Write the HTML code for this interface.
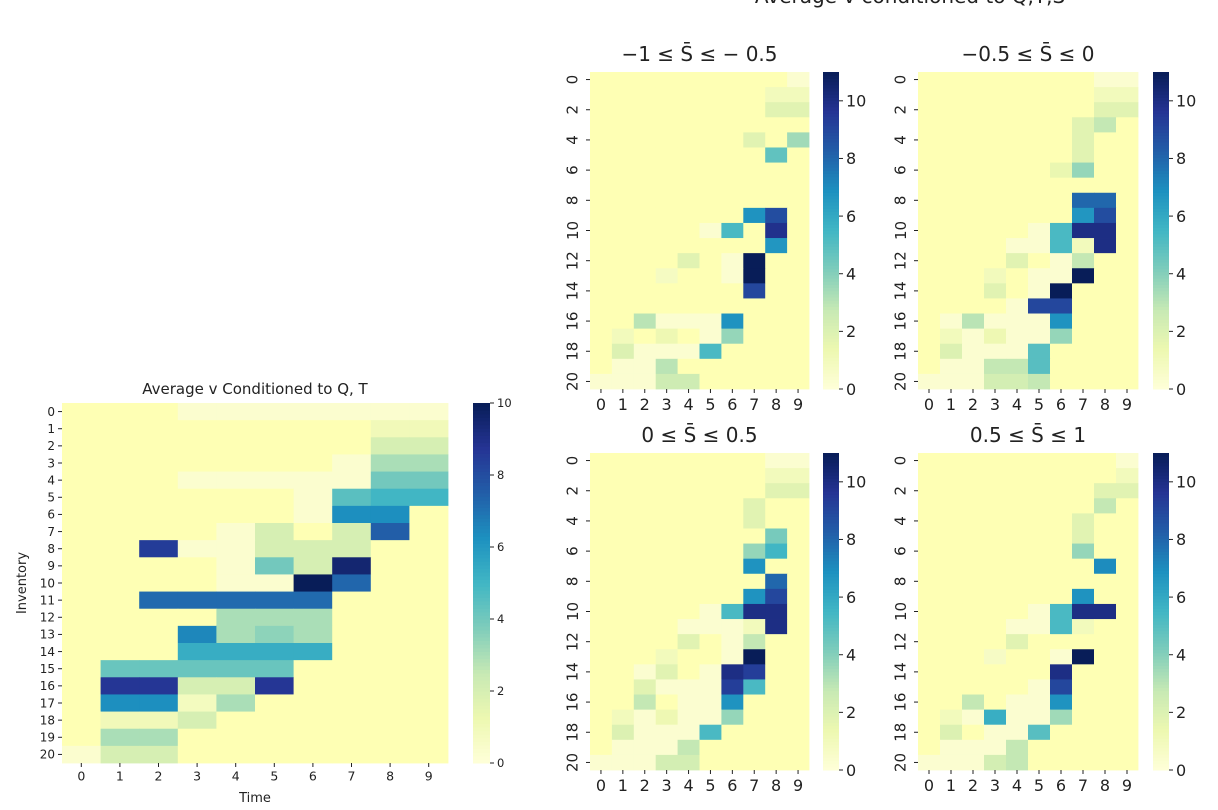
<!DOCTYPE html>
<html><head><meta charset="utf-8">
<style>
html,body{margin:0;padding:0;background:#fff;}
svg{display:block;font-family:"DejaVu Sans","Liberation Sans",sans-serif;}
</style></head>
<body>
<svg id="fig" width="1218" height="810" viewBox="0 0 1218 810" xmlns="http://www.w3.org/2000/svg">
<text x="910" y="3" font-size="20" text-anchor="middle" fill="#222">Average v conditioned to Q,T,S̄</text>
</svg>
<script>
const _ = null;
const timeLabels = ['0','1','2','3','4','5','6','7','8','9'];
const cbTicksMain = [0,2,4,6,8,10];
const cbTicksSmall = [0,2,4,6,8,10];
const mainData = [
[_,_,_,.3,.3,.3,.3,.3,.3,.3],
[_,_,_,_,_,_,_,_,1,1],
[_,_,_,_,_,_,_,_,2,2],
[_,_,_,_,_,_,_,.3,3,3],
[_,_,_,.3,.3,.3,.3,.3,4,4],
[_,_,_,_,_,_,.3,4.5,5,5],
[_,_,_,_,_,_,.3,6.3,6.3,_],
[_,_,_,_,.3,2,_,2,7.5,_],
[_,_,8.5,.3,.3,2,2,2,_,_],
[_,_,_,_,.3,4,2,9.5,_,_],
[_,_,_,_,.3,.3,10,7.3,_,_],
[_,_,7.2,7.2,7.2,7.2,7.2,_,_,_],
[_,_,_,_,3,3,3,_,_,_],
[_,_,_,6.5,3,3.5,3,_,_,_],
[_,_,_,5.3,5.3,5.3,5.3,_,_,_],
[_,4.2,4.2,4.2,4.2,4.2,_,_,_,_],
[_,8.7,8.7,2,2,8.7,_,_,_,_],
[_,6.3,6.3,.8,3,_,_,_,_,_],
[_,1,1,2,_,_,_,_,_,_],
[_,3,3,_,_,_,_,_,_,_],
[.3,2,2,_,_,_,_,_,_,_]];
const dataA = [
[_,_,_,_,_,_,_,_,_,.3],
[_,_,_,_,_,_,_,_,1,1],
[_,_,_,_,_,_,_,_,1.8,1.8],
[_,_,_,_,_,_,_,_,_,_],
[_,_,_,_,_,_,_,1.8,_,3.5],
[_,_,_,_,_,_,_,_,4.8,_],
[_,_,_,_,_,_,_,_,_,_],
[_,_,_,_,_,_,_,_,_,_],
[_,_,_,_,_,_,_,_,_,_],
[_,_,_,_,_,_,_,6.8,8.8,_],
[_,_,_,_,_,.3,5.3,_,9.8,_],
[_,_,_,_,_,_,_,_,6.7,_],
[_,_,_,_,1.8,_,.3,11,_,_],
[_,_,_,.8,_,_,.3,11,_,_],
[_,_,_,_,_,_,_,9,_,_],
[_,_,_,_,_,_,_,_,_,_],
[_,_,3,.3,.3,.3,6.8,_,_,_],
[_,1,_,1.3,_,.3,3.7,_,_,_],
[_,2,.3,.3,.3,5.3,_,_,_,_],
[_,.3,.3,3,_,_,_,_,_,_],
[.3,.3,.3,2.5,2.5,_,_,_,_,_]];
const dataB = [
[_,_,_,_,_,_,_,_,.3,.3],
[_,_,_,_,_,_,_,_,1,1],
[_,_,_,_,_,_,_,_,1.8,1.8],
[_,_,_,_,_,_,_,1.8,2.8,_],
[_,_,_,_,_,_,_,1.8,_,_],
[_,_,_,_,_,_,_,1.8,_,_],
[_,_,_,_,_,_,1.5,3.7,_,_],
[_,_,_,_,_,_,_,_,_,_],
[_,_,_,_,_,_,_,8,8,_],
[_,_,_,_,_,_,_,6.7,8.8,_],
[_,_,_,_,_,.3,5.3,10,10,_],
[_,_,_,_,.3,.3,5.3,1,10,_],
[_,_,_,_,1.8,_,.3,2.8,_,_],
[_,_,_,1,_,.3,.3,11,_,_],
[_,_,_,1.8,_,.3,11,_,_,_],
[_,_,_,_,.3,9,9,_,_,_],
[_,.3,3,.3,.3,.3,6.8,_,_,_],
[_,1,.3,1.3,.3,.3,3.7,_,_,_],
[_,2,.3,.3,.3,5,_,_,_,_],
[_,.3,.3,2.8,2.8,5,_,_,_,_],
[.3,.3,.3,2.3,2.3,2.8,_,_,_,_]];
const dataC = [
[_,_,_,_,_,_,_,_,.3,.3],
[_,_,_,_,_,_,_,_,1,1],
[_,_,_,_,_,_,_,_,1.8,1.8],
[_,_,_,_,_,_,_,1.8,_,_],
[_,_,_,_,_,_,_,1.8,_,_],
[_,_,_,_,_,_,_,_,4.3,_],
[_,_,_,_,_,_,_,3.7,5.5,_],
[_,_,_,_,_,_,_,6.8,_,_],
[_,_,_,_,_,_,_,_,8,_],
[_,_,_,_,_,_,_,6.8,9,_],
[_,_,_,_,_,.3,5.3,10,10,_],
[_,_,_,_,.3,.3,.3,1,10,_],
[_,_,_,_,1.8,_,.3,2.8,_,_],
[_,_,_,1,_,_,.3,11,_,_],
[_,_,.3,1.8,_,.3,10,9.3,_,_],
[_,_,1.8,.3,.3,.3,9.3,5.3,_,_],
[_,_,2.8,_,.3,.3,6.8,_,_,_],
[_,1,.3,1.3,.3,.3,3.7,_,_,_],
[_,2,.3,.3,.3,5.3,_,_,_,_],
[_,.3,.3,.3,2.8,_,_,_,_,_],
[.3,.3,.3,2.3,2.3,_,_,_,_,_]];
const dataD = [
[_,_,_,_,_,_,_,_,_,.3],
[_,_,_,_,_,_,_,_,_,1],
[_,_,_,_,_,_,_,_,1.8,1.8],
[_,_,_,_,_,_,_,_,2.8,_],
[_,_,_,_,_,_,_,1.8,_,_],
[_,_,_,_,_,_,_,1.8,_,_],
[_,_,_,_,_,_,_,3.7,_,_],
[_,_,_,_,_,_,_,_,7,_],
[_,_,_,_,_,_,_,_,_,_],
[_,_,_,_,_,_,_,6.8,_,_],
[_,_,_,_,_,.3,5.3,10,10,_],
[_,_,_,_,.3,.3,5.3,1,_,_],
[_,_,_,_,1.8,_,_,_,_,_],
[_,_,_,.7,_,_,.3,11,_,_],
[_,_,_,_,_,_,10,_,_,_],
[_,_,_,_,_,.3,9,_,_,_],
[_,_,2.8,_,.3,.3,6.8,_,_,_],
[_,1,.3,5.8,.3,.3,3.5,_,_,_],
[_,2,_,.3,.3,5,_,_,_,_],
[_,.3,.3,.3,2.8,_,_,_,_,_],
[.3,.3,.3,2.3,2.8,_,_,_,_,_]];

const NS='http://www.w3.org/2000/svg';
const svg=document.getElementById('fig');
const stops=['#ffffd9','#edf8b1','#c7e9b4','#7fcdbb','#41b6c4','#1d91c0','#225ea8','#253494','#081d58'];
const NANC='#feffb4';
function hx(c){return [1,3,5].map(i=>parseInt(c.substr(i,2),16));}
function cmap(t){t=Math.max(0,Math.min(1,t));const p=t*(stops.length-1);const i=Math.min(stops.length-2,Math.floor(p));const f=p-i;const a=hx(stops[i]),b=hx(stops[i+1]);return 'rgb('+a.map((v,k)=>Math.round(v+(b[k]-v)*f)).join(',')+')';}
function el(tag,attrs,parent){const e=document.createElementNS(NS,tag);for(const k in attrs)e.setAttribute(k,attrs[k]);(parent||svg).appendChild(e);return e;}
function txt(s,attrs,parent){const e=el('text',attrs,parent);e.textContent=s;return e;}

function heatmap(cfg){
  const g=el('g',{});
  
  
  const nr=cfg.data.length,nc=timeLabels.length;
  const cw=(cfg.x1-cfg.x0)/nc,rh=(cfg.y1-cfg.y0)/nr;
  const xs=c=>cfg.x0+c*cw, ys=r=>cfg.y0+r*rh;
  for(let r=0;r<nr;r++)for(let c=0;c<nc;c++){
    const v=cfg.data[r][c];
    const rc=el('rect',{x:xs(c).toFixed(2),y:ys(r).toFixed(2),width:(cw+0.4).toFixed(2),height:(rh+0.4).toFixed(2),fill:v===null?NANC:cmap(v/cfg.vmax)},g);
    
    
  }
  for(let c=0;c<nc;c++){
    const x=xs(c+0.5);
    el('line',{x1:x,x2:x,y1:cfg.y1,y2:cfg.y1+cfg.tick,stroke:'#222','stroke-width':1},g);
    const t=txt(timeLabels[c],{x:x,y:cfg.y1+cfg.tick+cfg.xfs+1,'font-size':cfg.xfs,'text-anchor':'middle',fill:'#222'},g);
    
    
  }
  for(let r=0;r<nr;r+=cfg.ystep){
    const y=ys(r+0.5);
    el('line',{x1:cfg.x0-cfg.tick,x2:cfg.x0,y1:y,y2:y,stroke:'#222','stroke-width':1},g);
    let t;
    if(cfg.rot){
      const lx=cfg.x0-cfg.tick-3-cfg.fs*0.35;
      t=txt(String(r),{x:lx,y:y,'font-size':cfg.fs,'text-anchor':'middle',fill:'#222',transform:'rotate(-90 '+lx+' '+y+')'},g);
    }else{
      t=txt(String(r),{x:cfg.x0-cfg.tick-3,y:y+cfg.fs*0.36,'font-size':cfg.fs,'text-anchor':'end',fill:'#222'},g);
    }
    
    
  }
  const cb=el('g',{},g);
  
  
  const N=100;
  for(let i=0;i<N;i++){
    const y=cfg.y1-(i+1)*(cfg.y1-cfg.y0)/N;
    el('rect',{x:cfg.cbx,y:y.toFixed(2),width:cfg.cbw,height:((cfg.y1-cfg.y0)/N+0.5).toFixed(2),fill:cmap((i+0.5)/N)},cb);
  }
  cfg.cbTicks.forEach(v=>{
    const y=cfg.y1-v/cfg.vmax*(cfg.y1-cfg.y0);
    el('line',{x1:cfg.cbx+cfg.cbw,x2:cfg.cbx+cfg.cbw+cfg.tick,y1:y,y2:y,stroke:'#222','stroke-width':1},cb);
    const t=txt(String(v),{x:cfg.cbx+cfg.cbw+cfg.tick+3,y:y+cfg.cfs*0.36,'font-size':cfg.cfs,fill:'#222'},cb);
    
    
  });
  const tt=txt(cfg.title,{x:(cfg.x0+cfg.x1)/2,y:cfg.ty,'font-size':cfg.tfs,'text-anchor':'middle',fill:'#222'},g);
  
  
}

heatmap({name:'main-heatmap',data:mainData,x0:62,x1:448,y0:403,y1:763,vmax:10,cbx:473,cbw:17,cbTicks:cbTicksMain,tick:4,fs:12,xfs:12.5,cfs:11.5,ystep:1,rot:false,title:'Average v Conditioned to Q, T',ty:394,tfs:15});
heatmap({name:'heatmap-s-neg1-neg05',data:dataA,x0:590,x1:809,y0:72,y1:389,vmax:11,cbx:823,cbw:16,cbTicks:cbTicksSmall,tick:4,fs:15,xfs:16,cfs:16,ystep:2,rot:true,title:'−1 ≤ S̄ ≤  − 0.5',ty:61,tfs:20});
heatmap({name:'heatmap-s-neg05-0',data:dataB,x0:918,x1:1138,y0:72,y1:389,vmax:11,cbx:1153,cbw:16,cbTicks:cbTicksSmall,tick:4,fs:15,xfs:16,cfs:16,ystep:2,rot:true,title:'−0.5 ≤ S̄ ≤ 0',ty:61,tfs:20});
heatmap({name:'heatmap-s-0-05',data:dataC,x0:590,x1:809,y0:453,y1:770,vmax:11,cbx:823,cbw:16,cbTicks:cbTicksSmall,tick:4,fs:15,xfs:16,cfs:16,ystep:2,rot:true,title:'0 ≤ S̄ ≤ 0.5',ty:442,tfs:20});
heatmap({name:'heatmap-s-05-1',data:dataD,x0:918,x1:1138,y0:453,y1:770,vmax:11,cbx:1153,cbw:16,cbTicks:cbTicksSmall,tick:4,fs:15,xfs:16,cfs:16,ystep:2,rot:true,title:'0.5 ≤ S̄ ≤ 1',ty:442,tfs:20});

const xl=txt('Time',{x:255,y:802,'font-size':13,'text-anchor':'middle',fill:'#222'});


const yl=txt('Inventory',{x:26,y:583,'font-size':13,'text-anchor':'middle',fill:'#222',transform:'rotate(-90 26 583)'});


</script>
</body></html>
